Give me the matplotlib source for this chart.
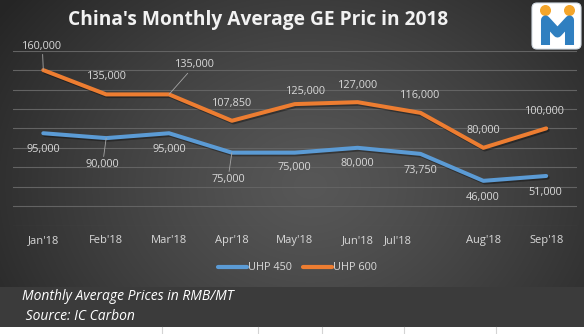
import numpy as np
import matplotlib
matplotlib.use("Agg")
import matplotlib.pyplot as plt
from matplotlib import patheffects as pe
from matplotlib.patches import FancyBboxPatch, Circle, Rectangle

# ---- data ----
months = ["Jan'18", "Feb'18", "Mar'18", "Apr'18", "May'18", "Jun'18", "Jul'18", "Aug'18", "Sep'18"]
uhp450 = [95000, 90000, 95000, 75000, 75000, 80000, 73750, 46000, 51000]
uhp600 = [160000, 135000, 135000, 107850, 125000, 127000, 116000, 80000, 100000]
series_names = ["UHP 450", "UHP 600"]
title = "China's Monthly Average GE Pric in 2018"
notes = ["Monthly Average Prices in RMB/MT", " Source: IC Carbon"]

# ---- layout (pixels) ----
W, H = 584, 334
tick_pos = [0, 1, 2, 3, 4, 5, 5.645, 7, 8]
# label offsets in pixels (dx right, dy up); leader flag draws a connector
off600 = [(-1, 24, True), (1, 17.7, False), (26, 29.4, True), (0, 17, False), (11, 13, False),
          (0, 17, False), (0, 17, False), (-0.5, 17, False), (-1, 16.5, False)]
off450 = [(0.5, -16.6, False), (-3.6, -26.7, True), (0, -16, False), (-4, -27, True), (0, -15, False),
          (0, -16, False), (0, -16.7, False), (-1, -16.4, False), (-1, -16.7, False)]

ORANGE = "#ED7D31"
BLUE = "#5B9BD5"
TXT = "#d9d9d9"
FONT = "Open Sans"

fig = plt.figure(figsize=(W / 100, H / 100), dpi=100)

# background with radial shading, in pixel coordinates
bg = fig.add_axes([0, 0, 1, 1], zorder=-10)
yy, xx = np.mgrid[0:H, 0:W]
r = np.hypot(xx - 310, (yy - 185) / 0.8)
t = np.clip(r / 380, 0, 1) ** 1.25
c0, c1 = 0x57 / 255, 0x25 / 255
shade = c0 + (c1 - c0) * t
bg.imshow(np.dstack([shade] * 3), extent=(0, W, H, 0), aspect="auto", interpolation="bilinear")
bg.set_xlim(0, W)
bg.set_ylim(H, 0)
bg.axis("off")

# footer band and sheet area below it
bg.add_patch(Rectangle((0, 287), W, 40, color="#3b3b3b", lw=0))
bg.add_patch(Rectangle((0, 327), W, 8, color="white", lw=0))
for x in [162, 258, 322, 404, 496]:
    bg.plot([x, x], [327, 334], color="#d4d4d4", lw=0.8)
bg.text(22, 297, notes[0], fontsize=10, style="italic", color="white", va="center", family=FONT)
bg.text(22, 317, notes[1], fontsize=10, style="italic", color="white", va="center", family=FONT)

# title
bg.text(258, 20, title, ha="center", va="center", fontsize=13.8, fontweight="bold",
        color="#f2f2f2", family=FONT)

# logo
bg.add_patch(FancyBboxPatch((532, 3), 49, 46, boxstyle="round,pad=0,rounding_size=5",
                            facecolor="white", edgecolor="#d5dde5", lw=0.8))
bg.add_patch(Circle((545.5, 10.5), 4.8, color="#f4a52a"))
bg.add_patch(Circle((569.5, 10.5), 4.8, color="#f4a52a"))
bg.plot([545.5, 545.5, 557.5, 569.5, 569.5], [45, 20, 33, 20, 45], color="#2f7fc0",
        lw=6.5, solid_joinstyle="round", solid_capstyle="butt")

# legend
for (x0, name, col) in [(218, series_names[0], BLUE), (303, series_names[1], ORANGE)]:
    bg.plot([x0, x0 + 29], [267, 267], color=col, lw=3, solid_capstyle="round")
    bg.text(x0 + 30, 267, name, fontsize=7.8, color=TXT, va="center", ha="left", family=FONT)

# main chart
ax = fig.add_axes([13 / W, 1 - 225.5 / H, 564 / W, (225.5 - 50.7) / H])
ax.patch.set_alpha(0)
ax.set_xlim(-0.482, 8.49)
ax.set_ylim(0, 180000)
ax.set_yticks(np.arange(0, 180001, 20000))
ax.yaxis.grid(True, color="#636363", lw=0.8)
ax.set_axisbelow(True)
ax.tick_params(axis="y", length=0, labelleft=False)
ax.set_xticks(tick_pos)
ax.set_xticklabels(months, fontsize=8, color=TXT, family=FONT)
ax.tick_params(axis="x", length=0, pad=7)
for s in ax.spines.values():
    s.set_visible(False)

x = np.arange(len(months))
shadow = [pe.SimpleLineShadow(offset=(1, -1.2), shadow_color="black", alpha=0.35), pe.Normal()]
for vals, col, offs in [(uhp450, BLUE, off450), (uhp600, ORANGE, off600)]:
    ax.plot(x, vals, color=col, lw=2.9, solid_joinstyle="round", solid_capstyle="round",
            path_effects=shadow, zorder=3)
    for xi, v, (dx, dy, lead) in zip(x, vals, offs):
        kw = {}
        if lead:
            kw["arrowprops"] = dict(arrowstyle="-", color="#a6a6a6", lw=0.6, shrinkA=0, shrinkB=0)
        ax.annotate(f"{v:,}", xy=(xi, v), xytext=(dx * 0.72, dy * 0.72), textcoords="offset points",
                    ha="center", va="center", fontsize=7.8, color=TXT, family=FONT, zorder=4, **kw)

fig.savefig("out.png", dpi=100)
